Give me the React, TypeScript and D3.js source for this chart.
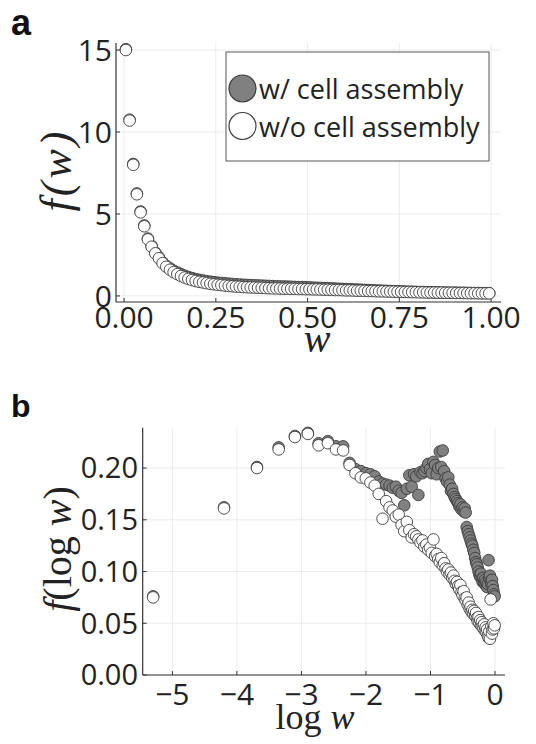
import React from 'react';
import * as d3 from 'd3';

// weight bins (centres)
const wBins = [
  0.005, 0.015, 0.025, 0.035, 0.045, 0.055, 0.065, 0.075, 0.085, 0.095,
  0.105, 0.115, 0.125, 0.135, 0.145, 0.155, 0.165, 0.175, 0.185, 0.195,
  0.205, 0.215, 0.225, 0.235, 0.245, 0.255, 0.265, 0.275, 0.285, 0.295,
  0.305, 0.315, 0.325, 0.335, 0.345, 0.355, 0.365, 0.375, 0.385, 0.395,
  0.405, 0.415, 0.425, 0.435, 0.445, 0.455, 0.465, 0.475, 0.485, 0.495,
  0.505, 0.515, 0.525, 0.535, 0.545, 0.555, 0.565, 0.575, 0.585, 0.595,
  0.605, 0.615, 0.625, 0.635, 0.645, 0.655, 0.665, 0.675, 0.685, 0.695,
  0.705, 0.715, 0.725, 0.735, 0.745, 0.755, 0.765, 0.775, 0.785, 0.795,
  0.805, 0.815, 0.825, 0.835, 0.845, 0.855, 0.865, 0.875, 0.885, 0.895,
  0.905, 0.915, 0.925, 0.935, 0.945, 0.955, 0.965, 0.975, 0.985, 0.995,
];

// panel a: f(w)
const fWith = [
  15.05, 10.75, 8.05, 6.25, 5.15, 4.3, 3.5, 3.05, 2.65, 2.35,
  2.05, 1.83, 1.68, 1.54, 1.43, 1.33, 1.24, 1.16, 1.09, 1.03,
  0.98, 0.94, 0.9, 0.87, 0.84, 0.81, 0.79, 0.77, 0.75, 0.73,
  0.71, 0.7, 0.68, 0.67, 0.66, 0.65, 0.64, 0.63, 0.62, 0.61,
  0.6, 0.59, 0.58, 0.58, 0.57, 0.56, 0.55, 0.54, 0.54, 0.53,
  0.52, 0.51, 0.5, 0.49, 0.48, 0.47, 0.46, 0.45, 0.44, 0.43,
  0.42, 0.41, 0.4, 0.39, 0.38, 0.37, 0.36, 0.35, 0.34, 0.33,
  0.32, 0.31, 0.3, 0.29, 0.28, 0.28, 0.27, 0.26, 0.26, 0.25,
  0.24, 0.24, 0.23, 0.23, 0.22, 0.22, 0.21, 0.21, 0.2, 0.2,
  0.2, 0.19, 0.19, 0.19, 0.18, 0.18, 0.18, 0.17, 0.17, 0.17,
];
const fWithout = [
  15.0, 10.7, 8.0, 6.2, 5.1, 4.25, 3.45, 3.0, 2.6, 2.3,
  2.0, 1.78, 1.6, 1.45, 1.33, 1.22, 1.12, 1.04, 0.97, 0.91,
  0.86, 0.82, 0.78, 0.74, 0.71, 0.68, 0.66, 0.63, 0.61, 0.59,
  0.57, 0.56, 0.54, 0.53, 0.52, 0.51, 0.5, 0.49, 0.48, 0.47,
  0.46, 0.46, 0.45, 0.44, 0.44, 0.43, 0.43, 0.42, 0.42, 0.41,
  0.41, 0.4, 0.4, 0.39, 0.38, 0.38, 0.37, 0.36, 0.36, 0.35,
  0.34, 0.34, 0.33, 0.32, 0.32, 0.31, 0.3, 0.3, 0.29, 0.28,
  0.28, 0.27, 0.27, 0.26, 0.25, 0.25, 0.24, 0.24, 0.23, 0.23,
  0.22, 0.22, 0.21, 0.21, 0.21, 0.2, 0.2, 0.19, 0.19, 0.19,
  0.18, 0.18, 0.18, 0.17, 0.17, 0.17, 0.16, 0.16, 0.16, 0.16,
];

// panel b: f(log w)
const gWith = [
  0.076, 0.162, 0.201, 0.220, 0.231, 0.234, 0.224, 0.226, 0.221, 0.221,
  0.205, 0.199, 0.197, 0.195, 0.194, 0.192, 0.187, 0.185, 0.184, 0.183,
  0.181, 0.182, 0.178, 0.176, 0.164, 0.180, 0.193, 0.182, 0.194, 0.192,
  0.174, 0.196, 0.195, 0.197, 0.200, 0.204, 0.199, 0.195, 0.206, 0.203,
  0.194, 0.200, 0.216, 0.201, 0.217, 0.197, 0.190, 0.187, 0.191, 0.184,
  0.178, 0.180, 0.175, 0.172, 0.170, 0.168, 0.166, 0.163, 0.165, 0.160,
  0.162, 0.158, 0.161, 0.157, 0.143, 0.139, 0.136, 0.133, 0.130, 0.127,
  0.125, 0.121, 0.118, 0.113, 0.109, 0.107, 0.104, 0.100, 0.097, 0.095,
  0.098, 0.093, 0.090, 0.094, 0.089, 0.092, 0.087, 0.090, 0.085, 0.088,
  0.111, 0.093, 0.096, 0.091, 0.088, 0.092, 0.086, 0.082, 0.078, 0.076,
];
const gWithout = [
  0.075, 0.161, 0.200, 0.218, 0.230, 0.233, 0.222, 0.224, 0.218, 0.217,
  0.203, 0.195, 0.191, 0.190, 0.186, 0.183, 0.175, 0.151, 0.168, 0.162,
  0.159, 0.153, 0.155, 0.145, 0.139, 0.148, 0.140, 0.133, 0.136, 0.134,
  0.131, 0.128, 0.130, 0.124, 0.126, 0.121, 0.123, 0.118, 0.131, 0.115,
  0.117, 0.112, 0.109, 0.113, 0.106, 0.108, 0.103, 0.100, 0.102, 0.097,
  0.099, 0.094, 0.096, 0.091, 0.088, 0.090, 0.086, 0.083, 0.087, 0.080,
  0.077, 0.081, 0.074, 0.072, 0.075, 0.068, 0.070, 0.064, 0.066, 0.061,
  0.063, 0.059, 0.062, 0.057, 0.060, 0.055, 0.052, 0.056, 0.050, 0.053,
  0.048, 0.051, 0.047, 0.045, 0.049, 0.043, 0.046, 0.041, 0.044, 0.038,
  0.036, 0.042, 0.035, 0.073, 0.047, 0.040, 0.044, 0.050, 0.045, 0.048,
];

const aXTicks = [0, 0.25, 0.5, 0.75, 1.0];
const aYTicks = [0, 5, 10, 15];
const bXTicks = [-5, -4, -3, -2, -1, 0];
const bYTicks = [0, 0.05, 0.1, 0.15, 0.2];
const legendLabels = ['w/ cell assembly', 'w/o cell assembly'];

const GRAY = '#808080';
const EDGE = '#3c3c3c';
const GRID = '#ebebeb';
const AXIS = '#333';
const TICK_FONT = "'Open Sans', sans-serif";
const MATH_FONT = "'Liberation Serif', serif";
const R = 5.8;

const fmt2 = d3.format('.2f');
const minus = (v: number) => (v < 0 ? '\u2212' + Math.abs(v) : String(v));

export default function App() {
  // panel a scales
  const xa = d3.scaleLinear().domain([-0.022, 1.027]).range([116, 501]);
  const ya = d3.scaleLinear().domain([-0.37, 15.43]).range([302, 43]);
  // panel b scales
  const xb = d3.scaleLinear().domain([-5.46, 0.155]).range([142.7, 505]);
  const yb = d3.scaleLinear().domain([0, 0.239]).range([675, 427.7]);

  const ptsA = (vals: number[]) => wBins.map((w, i) => [xa(w), ya(vals[i])]);
  const ptsB = (vals: number[]) => wBins.map((w, i) => [xb(Math.log(w)), yb(vals[i])]);

  const frame = (x: any, y: any, xt: number[], yt: number[]) => {
    const [x0, x1] = x.range();
    const [y0, y1] = y.range();
    return (
      <g>
        {xt.map((t) => (
          <line key={'gx' + t} x1={x(t)} x2={x(t)} y1={y0} y2={y1} stroke={GRID} />
        ))}
        {yt.map((t) => (
          <line key={'gy' + t} x1={x0} x2={x1} y1={y(t)} y2={y(t)} stroke={GRID} />
        ))}
        <line x1={x0} x2={x1} y1={y0} y2={y0} stroke={AXIS} strokeWidth={1.2} />
        <line x1={x0} x2={x0} y1={y0} y2={y1} stroke={AXIS} strokeWidth={1.2} />
        {xt.map((t) => (
          <line key={'tx' + t} x1={x(t)} x2={x(t)} y1={y0} y2={y0 - 4} stroke={AXIS} />
        ))}
        {yt.map((t) => (
          <line key={'ty' + t} x1={x0} x2={x0 + 4} y1={y(t)} y2={y(t)} stroke={AXIS} />
        ))}
      </g>
    );
  };

  const dots = (pts: number[][], fill: string) =>
    pts.map(([cx, cy], i) => (
      <circle key={i} cx={cx} cy={cy} r={R} fill={fill} stroke={EDGE} strokeWidth={0.9} />
    ));

  return (
    <svg width={536} height={744} style={{ position: 'absolute', left: 0, top: 0, background: '#fff' }}>
      {/* panel a */}
      <text x={11} y={35} fontFamily="'Liberation Sans', sans-serif" fontWeight="bold" fontSize={36} fill="#111">a</text>
      {frame(xa, ya, aXTicks, aYTicks)}
      {dots(ptsA(fWith), GRAY)}
      {dots(ptsA(fWithout), '#fff')}
      {aXTicks.map((t) => (
        <text key={t} x={xa(t)} y={328} textAnchor="middle" fontFamily={TICK_FONT} fontSize={30} fill="#222">
          {fmt2(t)}
        </text>
      ))}
      {aYTicks.map((t) => (
        <text key={t} x={112} y={ya(t)} dy="0.36em" textAnchor="end" fontFamily={TICK_FONT} fontSize={30} fill="#222">
          {t}
        </text>
      ))}
      <text x={317} y={352} textAnchor="middle" fontFamily={MATH_FONT} fontStyle="italic" fontSize={40} fill="#222">w</text>
      <text transform="translate(71,170) rotate(-90)" textAnchor="middle" fontFamily={MATH_FONT} fontStyle="italic" fontSize={44} letterSpacing={3} fill="#222">
        f(w)
      </text>
      {/* legend */}
      <rect x={226} y={52} width={263} height={109} fill="#fff" stroke="#555" strokeWidth={1} />
      {legendLabels.map((lab, i) => (
        <g key={lab}>
          <circle cx={242.5} cy={88.5 + i * 37.5} r={13.5} fill={i === 0 ? GRAY : '#fff'} stroke={EDGE} strokeWidth={1.2} />
          <text x={259} y={99 + i * 37.5} fontFamily={TICK_FONT} fontSize={27} fill="#222">{lab}</text>
        </g>
      ))}

      {/* panel b */}
      <text x={11} y={417} fontFamily="'Liberation Sans', sans-serif" fontWeight="bold" fontSize={32} fill="#111">b</text>
      {frame(xb, yb, bXTicks, bYTicks)}
      {dots(ptsB(gWith), GRAY)}
      {dots(ptsB(gWithout), '#fff')}
      {bXTicks.map((t) => (
        <text key={t} x={xb(t)} y={705} textAnchor="middle" fontFamily={TICK_FONT} fontSize={30} fill="#222">
          {minus(t)}
        </text>
      ))}
      {bYTicks.map((t) => (
        <text key={t} x={138} y={yb(t)} dy="0.36em" textAnchor="end" fontFamily={TICK_FONT} fontSize={29} fill="#222">
          {fmt2(t)}
        </text>
      ))}
      <text x={315} y={729} textAnchor="middle" fontFamily={MATH_FONT} fontSize={36} fill="#222">
        log <tspan fontStyle="italic">w</tspan>
      </text>
      <text transform="translate(71,549) rotate(-90)" textAnchor="middle" fontFamily={MATH_FONT} fontSize={40} fill="#222">
        <tspan fontStyle="italic">f</tspan>(log <tspan fontStyle="italic">w</tspan>)
      </text>
    </svg>
  );
}
